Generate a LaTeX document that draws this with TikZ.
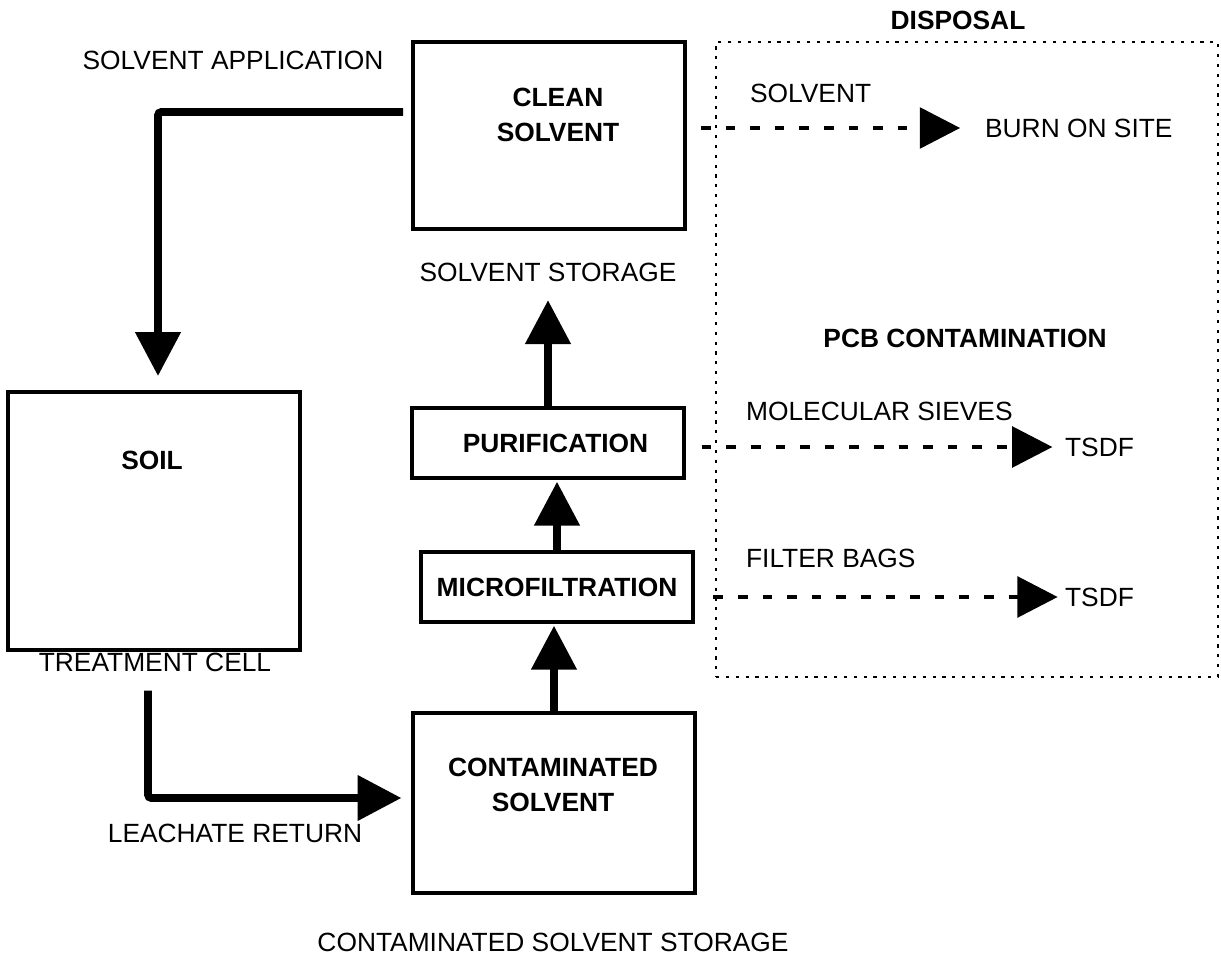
\documentclass[tikz,border=0pt]{standalone}
\usepackage{fontspec}
\setmainfont{Liberation Sans}
\usetikzlibrary{arrows.meta, positioning, calc}
\tikzset{
  unit/.style={draw, line width=2.2pt, inner sep=0pt},
  boldtxt/.style={font=\bfseries\fontsize{15}{20}\selectfont, align=center},
  lbl/.style={font=\fontsize{15}{18}\selectfont, inner sep=1pt},
  flow/.style={line width=4.5pt, rounded corners=2pt, -{Triangle[length=25pt,width=25pt]}},
  waste/.style={line width=2.8pt, dash pattern=on 5.5pt off 8.5pt, -{Triangle[length=23pt,width=23pt]}},
  zone/.style={draw, line width=1.6pt, dash pattern=on 1.8pt off 3.8pt, inner sep=0pt}
}
\begin{document}
\begin{tikzpicture}[x=0.02cm, y=-0.02cm]
    \useasboundingbox (0,0) rectangle (1221,962);
    % process units
    \node[unit, minimum width=5.44cm, minimum height=3.74cm] (clean) at (549,135.5) {};
    \node[boldtxt] at (558,115) {CLEAN\\SOLVENT};
    \node[unit, minimum width=5.84cm, minimum height=5.16cm] (soil) at (154,521) {};
    \node[boldtxt] at (152,460) {SOIL};
    \node[unit, minimum width=5.44cm, minimum height=1.4cm, boldtxt] (purif) at (548,443) {\hspace{0.3cm}PURIFICATION};
    \node[unit, minimum width=5.44cm, minimum height=1.4cm, boldtxt] (microf) at (557,587) {MICROFILTRATION};
    \node[unit, minimum width=5.64cm, minimum height=3.6cm] (contam) at (554,803) {};
    \node[boldtxt] at (553,785) {CONTAMINATED\\SOLVENT};
    \node[zone, minimum width=10.04cm, minimum height=12.7cm] (disposal) at (967,359.5) {};
    % labels
    \node[lbl] (appl) at (233,60) {SOLVENT APPLICATION};
    \node[lbl] (storage) at (548,272) {SOLVENT STORAGE};
    \node[lbl] (cell) at (155,662) {TREATMENT CELL};
    \node[lbl] (leach) at (235,833) {LEACHATE RETURN};
    \node[lbl] (cstorage) at (553,942) {CONTAMINATED SOLVENT STORAGE};
    \node[boldtxt] (disp) at (958,20) {DISPOSAL};
    \node[boldtxt] (pcb) at (965,338) {PCB CONTAMINATION};
    \node[lbl, anchor=west] (solv) at (748,93) {SOLVENT};
    \node[lbl, anchor=west] (burn) at (983,128) {BURN ON SITE};
    \node[lbl, anchor=west] (sieves) at (744,411) {MOLECULAR SIEVES};
    \node[lbl, anchor=west] (tsdfa) at (1063,447) {TSDF};
    \node[lbl, anchor=west] (bags) at (744,558) {FILTER BAGS};
    \node[lbl, anchor=west] (tsdfb) at (1063,597) {TSDF};
    % solvent loop
    \draw[flow, shorten <=4.5pt, shorten >=8pt] ([yshift=0.47cm]clean.west) -| ([xshift=0.08cm]soil.north);
    \draw[flow, shorten <=22pt, shorten >=5.5pt] ([xshift=-0.12cm]soil.south) |- ([yshift=0.1cm]contam.west);
    \draw[flow, shorten >=1pt] (contam.north) -- (contam.north |- microf.south);
    \draw[flow, shorten >=1pt] (microf.north) -- (microf.north |- purif.south);
    \draw[flow, shorten >=9.5pt] (purif.north) -- (purif.north |- storage.south);
    % disposal
    \draw[waste, shorten <=8pt, shorten >=13pt] (clean.east |- burn.west) -- (burn.west);
    \draw[waste, shorten <=9pt, shorten >=6pt] (purif.east |- tsdfa.west) -- (tsdfa.west);
    \draw[waste, shorten <=10.5pt, shorten >=3pt] (microf.east |- tsdfb.west) -- (tsdfb.west);
\end{tikzpicture}
\end{document}
